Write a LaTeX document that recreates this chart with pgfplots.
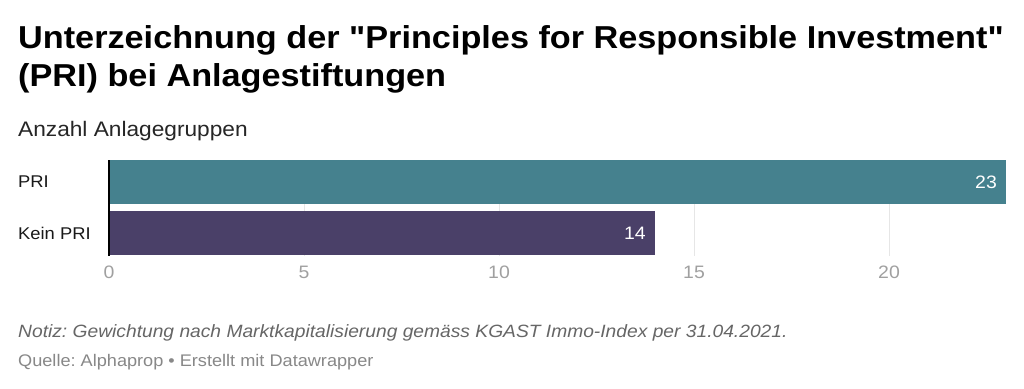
\documentclass[border=0pt]{standalone}
\usepackage{fontspec}
\setmainfont{Liberation Sans}[FakeStretch=1.08, Ligatures=TeXOff]
\usepackage{pgfplots}
\pgfplotsset{compat=1.18}
\definecolor{tealbar}{HTML}{45818E}
\definecolor{purpbar}{HTML}{4A4068}
\definecolor{gridc}{HTML}{E6E6E6}
\definecolor{ticktext}{HTML}{A0A0A0}
\definecolor{notec}{HTML}{666666}
\definecolor{srcc}{HTML}{888888}
\frenchspacing
\begin{document}
\frenchspacing
\begin{tikzpicture}[x=1pt,y=1pt]
\useasboundingbox (0,0) rectangle (1024,388);
\fill[white] (0,0) rectangle (1024,388);
\node[anchor=base west, inner sep=0, font=\fontsize{31.7}{38}\selectfont\bfseries] at (18,339) {Unterzeichnung der "Principles for Responsible Investment"};
\node[anchor=base west, inner sep=0, font=\fontsize{31.7}{38}\selectfont\bfseries] at (18,301) {(PRI) bei Anlagestiftungen};
\node[anchor=base west, inner sep=0, text=black!85, font=\fontsize{21}{25}\selectfont] at (18,251) {Anzahl Anlagegruppen};
\node[anchor=base west, inner sep=0, text=notec, font=\fontsize{17.8}{22}\selectfont\itshape\frenchspacing] at (18,51) {Notiz: Gewichtung nach Marktkapitalisierung gemäss KGAST Immo-Index per 31.04.2021.};
\node[anchor=base west, inner sep=0, text=srcc, font=\fontsize{16.8}{20}\selectfont\frenchspacing] at (18,22) {Quelle: Alphaprop • Erstellt mit Datawrapper};
\begin{axis}[
  at={(109pt,132pt)}, anchor=south west,
  scale only axis, width=897pt, height=96pt,
  xmin=0, xmax=23, ymin=-0.45, ymax=1.431,
  xbar, bar width=44pt, bar shift=0pt,
  axis line style={draw=none},
  major tick length=0pt,
  xmajorgrids, grid style={color=gridc, line width=0.8pt},
  xtick={0,5,10,15,20},
  ytick={0,1}, yticklabels={Kein PRI, PRI},
  /pgf/number format/assume math mode=true,
  xticklabel style={text=ticktext, font=\fontsize{18}{20}\selectfont, anchor=north, inner sep=0pt, yshift=-10pt},
  yticklabel style={text=black!90, font=\fontsize{17}{20}\selectfont, anchor=west, inner sep=0pt, xshift=-91pt},
  nodes near coords,
  nodes near coords style={anchor=east, text=white, inner sep=0pt, xshift=-9pt, font=\fontsize{18}{20}\selectfont},
  clip=false,
]
\addplot[fill=purpbar, draw=none] coordinates {(14,0)};
\addplot[fill=tealbar, draw=none] coordinates {(23,1)};
\draw[black, line width=1.2pt] (axis cs:0,-0.45) -- (axis cs:0,1.431);
\end{axis}
\end{tikzpicture}
\end{document}
